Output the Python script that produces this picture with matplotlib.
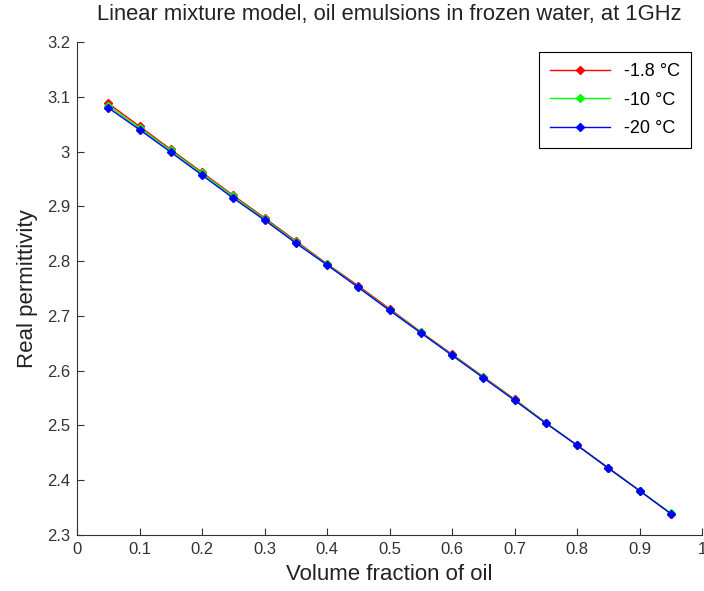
import matplotlib.pyplot as plt
import numpy as np

# Volume fraction of oil
fraccion = [0.05, 0.10, 0.15, 0.20, 0.25, 0.30, 0.35, 0.40, 0.45, 0.50,
            0.55, 0.60, 0.65, 0.70, 0.75, 0.80, 0.85, 0.90, 0.95]

# Real permittivity for each temperature
eps_m1_8 = [3.088, 3.046, 3.004, 2.962, 2.920, 2.879, 2.837, 2.795, 2.755, 2.713,
            2.671, 2.630, 2.589, 2.548, 2.505, 2.464, 2.423, 2.381, 2.339]
eps_m10 = [3.084, 3.043, 3.002, 2.960, 2.918, 2.877, 2.835, 2.794, 2.753, 2.711,
           2.670, 2.629, 2.588, 2.547, 2.505, 2.464, 2.422, 2.381, 2.340]
eps_m20 = [3.080, 3.040, 2.999, 2.957, 2.915, 2.875, 2.833, 2.793, 2.752, 2.710,
           2.669, 2.628, 2.587, 2.546, 2.504, 2.464, 2.422, 2.381, 2.339]

etiquetas = ['-1.8 °C', '-10 °C', '-20 °C']
colores = ['#ff0000', '#00ff00', '#0000ff']

plt.rcParams['font.family'] = ['Liberation Sans', 'DejaVu Sans']

fig = plt.figure(figsize=(7.04, 5.91), dpi=100)
ax = fig.add_axes([77 / 704, 1 - 535 / 591, 625 / 704, 493 / 591])

for serie, etq, col in zip([eps_m1_8, eps_m10, eps_m20], etiquetas, colores):
    ax.plot(fraccion, serie, color=col, lw=1, marker='D', ms=4,
            label=etq)

ax.set_xlim(0, 1)
ax.set_ylim(2.3, 3.2)
ax.set_xticks(np.arange(0, 1.01, 0.1))
ax.set_yticks(np.arange(2.3, 3.21, 0.1))
ax.set_xticklabels(['0', '0.1', '0.2', '0.3', '0.4', '0.5', '0.6', '0.7', '0.8', '0.9', '1'])
ax.set_yticklabels(['2.3', '2.4', '2.5', '2.6', '2.7', '2.8', '2.9', '3', '3.1', '3.2'])
ax.tick_params(direction='in', length=5, labelsize=12, colors='#333333',
               labelcolor='#333333', pad=5)

# solo ejes izquierdo e inferior
ax.spines['top'].set_visible(False)
ax.spines['right'].set_visible(False)
for s in ['left', 'bottom']:
    ax.spines[s].set_color('#333333')

ax.set_xlabel('Volume fraction of oil', fontsize=16, color='#222222', labelpad=5)
ax.set_ylabel('Real permittivity', fontsize=16, color='#222222', labelpad=6)
ax.set_title('Linear mixture model, oil emulsions in frozen water, at 1GHz',
             fontsize=15.8, color='#222222', pad=16)

leg = ax.legend(loc='upper right', bbox_to_anchor=(0.997, 0.998), fontsize=13,
                fancybox=False, edgecolor='black', framealpha=1,
                handlelength=3.3, borderpad=0.6, labelspacing=0.65)
leg.get_frame().set_linewidth(0.8)

plt.savefig('out.png', dpi=100)
